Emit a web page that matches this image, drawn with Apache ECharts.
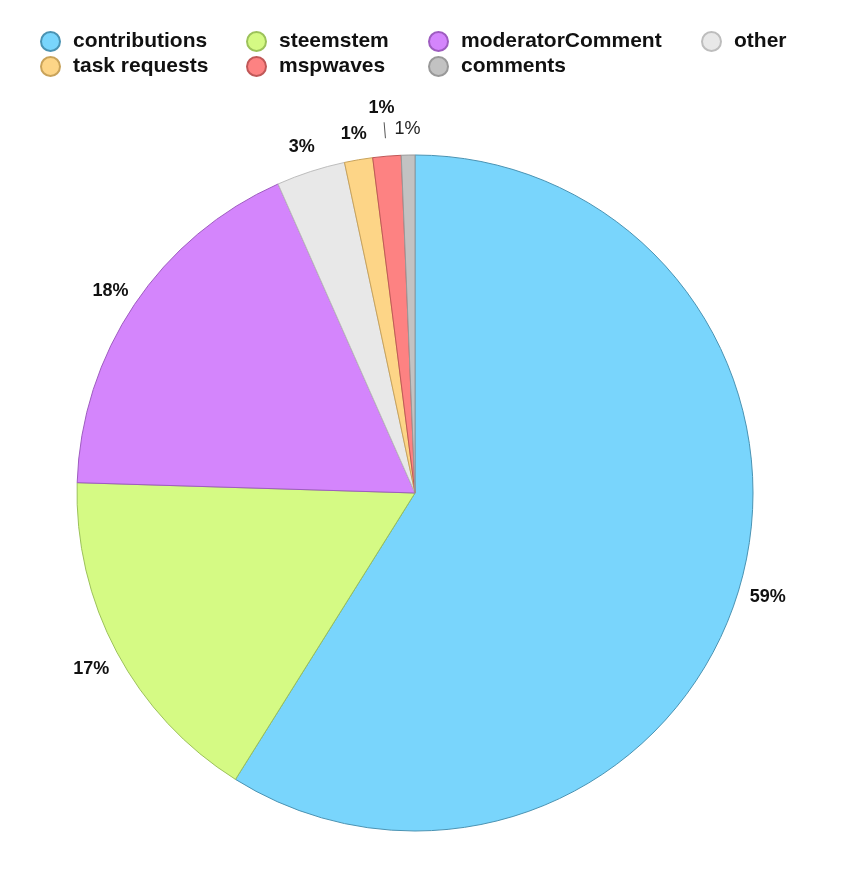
<!DOCTYPE html>
<html>
<head>
<meta charset="utf-8">
<script src="https://cdn.jsdelivr.net/npm/echarts@6/dist/echarts.min.js"></script>
<style>
html,body{margin:0;padding:0;background:#fff;}
#chart{width:842px;height:870px;}
</style>
</head>
<body>
<div id="chart"></div>
<script>
const categories = ['contributions','steemstem','moderatorComment','other','task requests','mspwaves','comments'];
const values = [59.0, 16.6, 17.9, 3.3, 1.35, 1.35, 0.65];
const fillColors = ['#79D5FC','#D5FA84','#D485FC','#E8E8E8','#FDD587','#FD8282','#C2C2C2'];
const borderColors = ['#4A93B3','#9CC25A','#9E5CC0','#BDBDBD','#C9A35A','#C05858','#999999'];
const legendColumns = [
  ['contributions','task requests'],
  ['steemstem','mspwaves'],
  ['moderatorComment','comments'],
  ['other']
];
const legendLefts = [35, 241, 423, 696];

const chart = echarts.init(document.getElementById('chart'), null, {renderer:'canvas'});
const CENTER = [415, 493];
const R = 338;

const mainData = categories.map((c,i)=>({
  name:c, value:values[i],
  itemStyle:{color:fillColors[i], borderColor:borderColors[i], borderWidth:1}
}));
const labelData = categories.map((c,i)=>{
  const d = {name:c, value:values[i]};
  if (c === 'mspwaves') d.label = {offset:[-3,-19]};
  if (c === 'comments') d.label = {fontWeight:'normal', color:'#222'};
  return d;
});
const lineData = categories.map((c,i)=>({
  name:c, value:values[i],
  label:{show: c === 'mspwaves'},
  labelLine:{show: c === 'mspwaves'}
}));

const legends = legendColumns.map((col,k)=>({
  data: col,
  orient:'vertical',
  left: legendLefts[k],
  top: 26,
  itemGap: 4,
  icon:'circle',
  itemWidth:19,
  itemHeight:19,
  selectedMode:false,
  textStyle:{fontSize:21, lineHeight:21, fontWeight:'bold', color:'#111', fontFamily:'Liberation Sans, Arial, sans-serif', padding:[0,0,0,8]}
}));

chart.setOption({
  animation:false,
  backgroundColor:'#fff',
  legend: legends,
  series:[
    {
      type:'pie', name:'main', center:CENTER, radius:[0,R],
      startAngle:90, clockwise:true, silent:true,
      label:{show:false}, labelLine:{show:false},
      data: mainData
    },
    {
      type:'pie', name:'labels', center:CENTER, radius:[R, R+52],
      startAngle:90, clockwise:true, silent:true,
      itemStyle:{color:'rgba(0,0,0,0)', borderWidth:0},
      label:{show:true, position:'inside', fontSize:18, fontWeight:'bold', color:'#111',
        offset:[0,3],
        fontFamily:'Liberation Sans, Arial, sans-serif',
        formatter:p=>Math.round(p.percent)+'%'},
      labelLine:{show:false},
      data: labelData
    },
    {
      type:'pie', name:'lines', center:CENTER, radius:[0, R+18],
      startAngle:90, clockwise:true, silent:true, avoidLabelOverlap:false,
      itemStyle:{color:'rgba(0,0,0,0)', borderWidth:0},
      label:{position:'outside', formatter:' ', fontSize:10},
      labelLine:{length:16, length2:0, lineStyle:{color:'#555', width:1}},
      data: lineData
    }
  ]
});
</script>
</body>
</html>
